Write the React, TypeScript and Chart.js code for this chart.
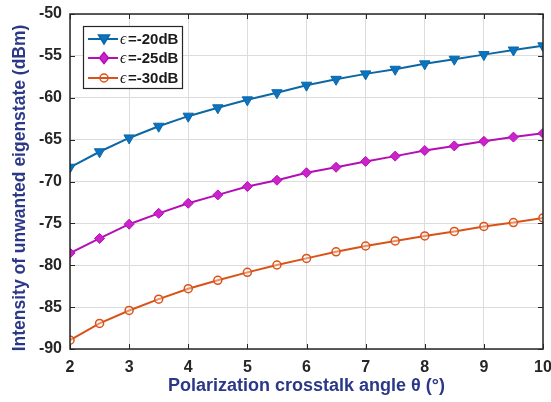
import React, { useEffect, useRef } from "react";
import { Chart, registerables } from "chart.js";

Chart.register(...registerables);

const angles = [2, 2.5, 3, 3.5, 4, 4.5, 5, 5.5, 6, 6.5, 7, 7.5, 8, 8.5, 9, 9.5, 10];
const eps20 = [-68.3, -66.45, -64.8, -63.4, -62.2, -61.2, -60.25, -59.4, -58.5, -57.8, -57.15, -56.6, -55.95, -55.4, -54.85, -54.3, -53.8];
const eps25 = [-78.55, -76.8, -75.1, -73.8, -72.6, -71.6, -70.6, -69.85, -68.95, -68.3, -67.6, -66.97, -66.3, -65.75, -65.2, -64.7, -64.25];
const eps30 = [-88.95, -86.95, -85.4, -84.05, -82.8, -81.8, -80.85, -79.97, -79.18, -78.4, -77.7, -77.1, -76.5, -75.96, -75.36, -74.9, -74.35];
const seriesLabels = ["=-20dB", "=-25dB", "=-30dB"];
const xTicks = [2, 3, 4, 5, 6, 7, 8, 9, 10];
const yTicks = [-90, -85, -80, -75, -70, -65, -60, -55, -50];
const yTitle = "Intensity of unwanted eigenstate (dBm)";
const xTitle = "Polarization crosstalk angle θ (°)";

const BLUE_LINE = "#0d67a3";
const BLUE = "#0a74c2";
const MAG_LINE = "#b40fb4";
const MAG = "#cc22cc";
const ORANGE = "#d95319";
const NAVY = "#2b3888";
const AXIS = "#262626";

function drawMarker(ctx: CanvasRenderingContext2D, kind: string, x: number, y: number) {
  ctx.save();
  ctx.lineWidth = 1.5;
  if (kind === "tri") {
    ctx.fillStyle = BLUE;
    ctx.strokeStyle = BLUE_LINE;
    ctx.beginPath();
    ctx.moveTo(x - 5.5, y - 4);
    ctx.lineTo(x + 5.5, y - 4);
    ctx.lineTo(x, y + 5);
    ctx.closePath();
    ctx.fill();
    ctx.stroke();
  } else if (kind === "dia") {
    ctx.fillStyle = MAG;
    ctx.strokeStyle = MAG_LINE;
    ctx.beginPath();
    ctx.moveTo(x, y - 5.5);
    ctx.lineTo(x + 4.5, y);
    ctx.lineTo(x, y + 5.5);
    ctx.lineTo(x - 4.5, y);
    ctx.closePath();
    ctx.fill();
    ctx.stroke();
  } else {
    ctx.strokeStyle = ORANGE;
    ctx.beginPath();
    ctx.arc(x, y, 4, 0, Math.PI * 2);
    ctx.stroke();
  }
  ctx.restore();
}

const framePlugin = {
  id: "frame",
  afterDatasetsDraw(chart: any) {
    const { ctx, chartArea } = chart;
    const { left, right, top, bottom } = chartArea;
    const xs = chart.scales.x;
    const ys = chart.scales.y;
    ctx.save();
    ctx.strokeStyle = AXIS;
    ctx.lineWidth = 1.5;
    ctx.strokeRect(left, top, right - left, bottom - top);
    ctx.lineWidth = 1;
    ctx.beginPath();
    const tl = 5;
    xTicks.forEach((t) => {
      const px = Math.round(xs.getPixelForValue(t)) + 0.5;
      ctx.moveTo(px, bottom);
      ctx.lineTo(px, bottom - tl);
      ctx.moveTo(px, top);
      ctx.lineTo(px, top + tl);
    });
    yTicks.forEach((t) => {
      const py = Math.round(ys.getPixelForValue(t)) + 0.5;
      ctx.moveTo(left, py);
      ctx.lineTo(left + tl, py);
      ctx.moveTo(right, py);
      ctx.lineTo(right - tl, py);
    });
    ctx.stroke();
    ctx.restore();
  },
  afterDraw(chart: any) {
    const ctx = chart.ctx as CanvasRenderingContext2D;
    // y axis title
    ctx.save();
    ctx.translate(20, 188);
    ctx.rotate(-Math.PI / 2);
    ctx.fillStyle = NAVY;
    ctx.font = "bold 17.5px 'Liberation Sans'";
    ctx.textAlign = "center";
    ctx.textBaseline = "middle";
    ctx.fillText(yTitle, 0, 0);
    ctx.restore();

    const bx = 83.5, by = 26.5, bw = 99, bh = 62;
    ctx.save();
    ctx.fillStyle = "#ffffff";
    ctx.fillRect(bx, by, bw, bh);
    ctx.strokeStyle = AXIS;
    ctx.lineWidth = 1.2;
    ctx.strokeRect(bx, by, bw, bh);
    const rows = [39, 58, 78];
    const kinds = ["tri", "dia", "circ"];
    const lines = [BLUE_LINE, MAG_LINE, ORANGE];
    rows.forEach((ry, i) => {
      ctx.strokeStyle = lines[i];
      ctx.lineWidth = 2;
      ctx.beginPath();
      ctx.moveTo(88, ry);
      ctx.lineTo(118, ry);
      ctx.stroke();
      drawMarker(ctx, kinds[i], 104, ry);
      ctx.fillStyle = "#1a1a1a";
      ctx.textBaseline = "middle";
      ctx.textAlign = "left";
      ctx.font = "italic 16px 'Liberation Serif'";
      ctx.fillText("\u03F5", 120, ry + 1);
      ctx.font = "bold 15px 'Liberation Sans'";
      ctx.fillText(seriesLabels[i], 128, ry + 1);
    });
    ctx.restore();
  },
};

export default function App() {
  const ref = useRef<HTMLCanvasElement>(null);
  useEffect(() => {
    document.body.style.margin = "0";
    const canvas = ref.current!;
    const mk = (vals: number[]) => vals.map((v, i) => ({ x: angles[i], y: v }));
    const chart = new Chart(canvas, {
      type: "line",
      data: {
        datasets: [
          {
            label: "ε=-20dB",
            data: mk(eps20),
            borderColor: BLUE_LINE,
            borderWidth: 2,
            backgroundColor: BLUE,
            pointStyle: "triangle",
            rotation: 180,
            pointRadius: 6,
            pointBorderColor: BLUE_LINE,
            pointBackgroundColor: BLUE,
            pointBorderWidth: 1,
          },
          {
            label: "ε=-25dB",
            data: mk(eps25),
            borderColor: MAG_LINE,
            borderWidth: 2,
            backgroundColor: MAG,
            pointStyle: "rectRot",
            pointRadius: 5,
            pointBorderColor: MAG_LINE,
            pointBackgroundColor: MAG,
            pointBorderWidth: 1,
          },
          {
            label: "ε=-30dB",
            data: mk(eps30),
            borderColor: ORANGE,
            borderWidth: 2,
            backgroundColor: "rgba(0,0,0,0)",
            pointStyle: "circle",
            pointRadius: 4,
            pointBorderColor: ORANGE,
            pointBackgroundColor: "rgba(255,240,230,0.4)",
            pointBorderWidth: 1.5,
          },
        ],
      },
      options: {
        responsive: false,
        animation: false,
        layout: { padding: { top: 14, right: 8, left: 0, bottom: 0 } },
        plugins: { legend: { display: false }, tooltip: { enabled: false } },
        scales: {
          x: {
            type: "linear",
            min: 2,
            max: 10,
            afterFit: (s: any) => { s.height = 53; s.paddingLeft = 0; s.paddingRight = 0; },
            afterBuildTicks: (s: any) => { s.ticks = xTicks.map((v) => ({ value: v })); },
            grid: { color: "#dcdcdc", drawTicks: false, lineWidth: 1 },
            border: { display: false },
            ticks: {
              padding: 9,
              color: AXIS,
              font: { family: "'Liberation Sans'", size: 16, weight: "bold" },
            },
            title: {
              display: true,
              text: xTitle,
              color: NAVY,
              padding: { top: 0, bottom: 5 },
              font: { family: "'Liberation Sans'", size: 18, weight: "bold" },
            },
          },
          y: {
            type: "linear",
            min: -90,
            max: -50,
            afterFit: (s: any) => { s.width = 70; s.paddingTop = 0; s.paddingBottom = 0; },
            afterBuildTicks: (s: any) => { s.ticks = yTicks.map((v) => ({ value: v })); },
            grid: { color: "#dcdcdc", drawTicks: false, lineWidth: 1 },
            border: { display: false },
            ticks: {
              padding: 8,
              color: AXIS,
              font: { family: "'Liberation Sans'", size: 16, weight: "bold" },
            },
            title: { display: false },
          },
        },
      },
      plugins: [framePlugin],
    } as any);
    return () => chart.destroy();
  }, []);
  return (
    <div style={{ position: "absolute", left: 0, top: 0, width: 551, height: 402, background: "#fff" }}>
      <canvas ref={ref} width={551} height={402} style={{ display: "block" }} />
    </div>
  );
}
